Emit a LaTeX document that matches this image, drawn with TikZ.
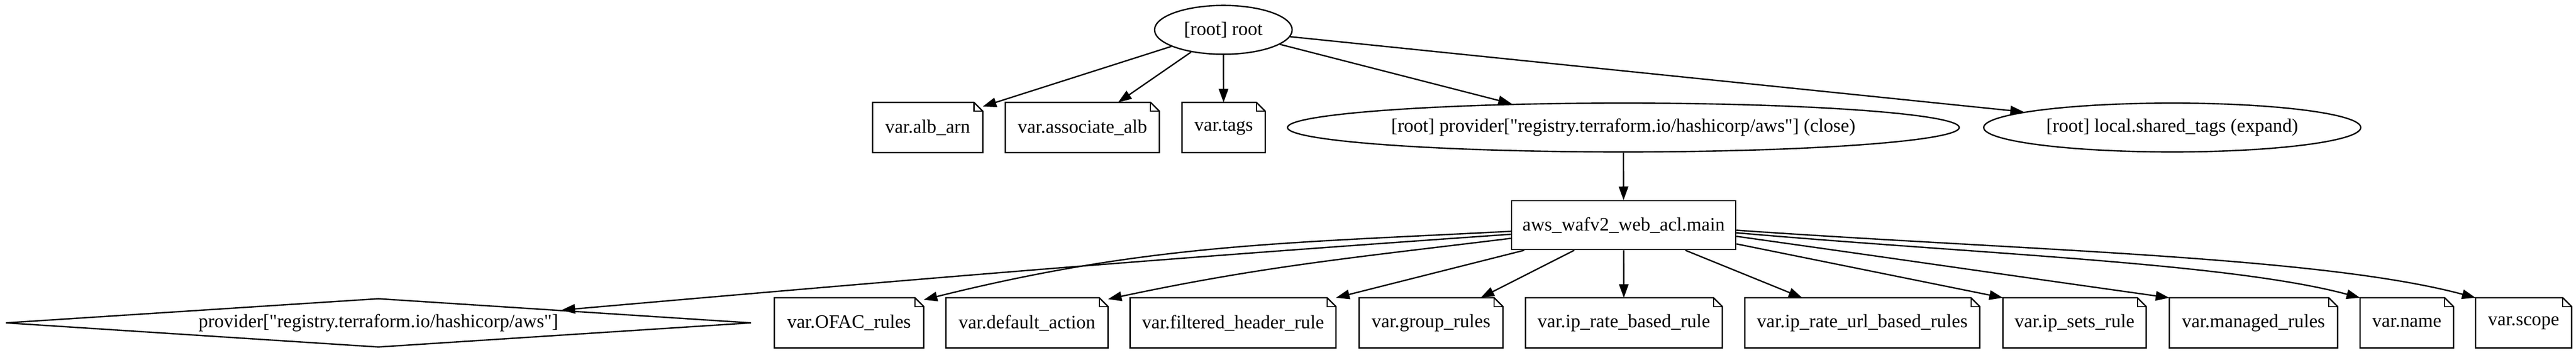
\documentclass[tikz,border=0pt]{standalone}
\usepackage{fontspec}
\setmainfont{Liberation Serif}[Ligatures=TeXOff]
\usetikzlibrary{shapes.geometric,arrows.meta}
\tikzset{
  gnode/.style={font=\fontsize{14pt}{16pt}\selectfont, inner sep=0pt, minimum height=36pt, line width=1pt},
  resbox/.style={gnode, draw, rectangle},
  varnote/.style={gnode, rectangle},
  oval/.style={gnode, draw, ellipse},
  provshape/.style={gnode, draw, diamond, aspect=15},
  dep/.style={line width=1pt, -{Triangle[length=10pt,width=7pt]}},
}
\begin{document}
\begin{tikzpicture}[x=1pt,y=1pt]
  \useasboundingbox (0,0) rectangle (1896.6,260);
  % rank 1
  \node[oval, minimum width=101.3pt] (root) at (900.7,238) {[root] root};
  % rank 2
  \node[varnote, minimum width=80.2pt] (albarn) at (683.0,166) {var.alb\_arn};
  \node[varnote, minimum width=112.4pt] (assoc) at (796.9,166) {var.associate\_alb};
  \node[varnote, minimum width=60.3pt] (tags) at (900.9,166) {var.tags};
  \node[oval, minimum width=494.6pt] (prov) at (1195.2,166) {[root] provider["registry.terraform.io/hashicorp/aws"] (close)};
  \node[oval, minimum width=277.6pt] (local) at (1599.3,166) {[root] local.shared\_tags (expand)};
  % rank 3
  \node[resbox, minimum width=165pt] (aws) at (1195.4,94) {aws\_wafv2\_web\_acl.main};
  % rank 4
  \node[provshape, minimum width=548.9pt] (provd) at (278.6,22) {provider["registry.terraform.io/hashicorp/aws"]};
  \node[varnote, minimum width=109pt] (ofac) at (625.1,22) {var.OFAC\_rules};
  \node[varnote, minimum width=118.4pt] (dflt) at (756.1,22) {var.default\_action};
  \node[varnote, minimum width=150.6pt] (filt) at (907.8,22) {var.filtered\_header\_rule};
  \node[varnote, minimum width=104.9pt] (group) at (1053.6,22) {var.group\_rules};
  \node[varnote, minimum width=143.9pt] (iprate) at (1195.6,22) {var.ip\_rate\_based\_rule};
  \node[varnote, minimum width=172pt] (ipurl) at (1371.1,22) {var.ip\_rate\_url\_based\_rules};
  \node[varnote, minimum width=104.5pt] (ipsets) at (1527.4,22) {var.ip\_sets\_rule};
  \node[varnote, minimum width=122.9pt] (managed) at (1659.1,22) {var.managed\_rules};
  \node[varnote, minimum width=67.8pt] (vname) at (1772.0,22) {var.name};
  \node[varnote, minimum width=69.7pt] (vscope) at (1858.0,22) {var.scope};

  % note outlines with folded corner
  \foreach \n in {albarn,assoc,tags,ofac,dflt,filt,group,iprate,ipurl,ipsets,managed,vname,vscope}{
    \draw[line width=1pt] (\n.south west) -- (\n.north west) -- ([xshift=-6.5pt]\n.north east)
      -- ([yshift=-6.5pt]\n.north east) -- (\n.south east) -- cycle;
    \draw[line width=0.8pt] ([xshift=-6.5pt]\n.north east) |- ([yshift=-6.5pt]\n.north east);
  }

  % edges from root
  \draw[dep] (root) -- ([yshift=-3pt]albarn.north east);
  \draw[dep] (root) -- ([xshift=26.3pt]assoc.north);
  \draw[dep] (root) -- (tags);
  \draw[dep] (root) -- (prov.168);
  \draw[dep] (root) -- (local.174);
  \draw[dep] (prov) -- (aws);

  % edges from aws_wafv2_web_acl.main
  \draw[dep] ([yshift=-6.7pt]aws.west) to[out=184,in=5] (provd.4);
  \draw[dep] ([yshift=-4.5pt]aws.west) to[out=183,in=14] ([yshift=-1.5pt]ofac.north east);
  \draw[dep] ([yshift=-9.7pt]aws.west) to[out=187,in=12] ([yshift=-1pt]dflt.north east);
  \draw[dep] (aws) -- (filt.north east);
  \draw[dep] (aws) -- ([xshift=-16.4pt]group.north east);
  \draw[dep] (aws) -- (iprate);
  \draw[dep] (aws) -- ([xshift=42.3pt]ipurl.north west);
  \draw[dep] ([yshift=-13.8pt]aws.east) -- (ipsets.north west);
  \draw[dep] ([yshift=-8.2pt]aws.east) to[out=-8,in=172] (managed.north west);
  \draw[dep] ([yshift=-5.6pt]aws.east) to[out=-5,in=165,in looseness=0.55] (vname.north west);
  \draw[dep] ([yshift=-3.7pt]aws.east) to[out=-4,in=165,in looseness=0.55] (vscope.north west);
\end{tikzpicture}
\end{document}
